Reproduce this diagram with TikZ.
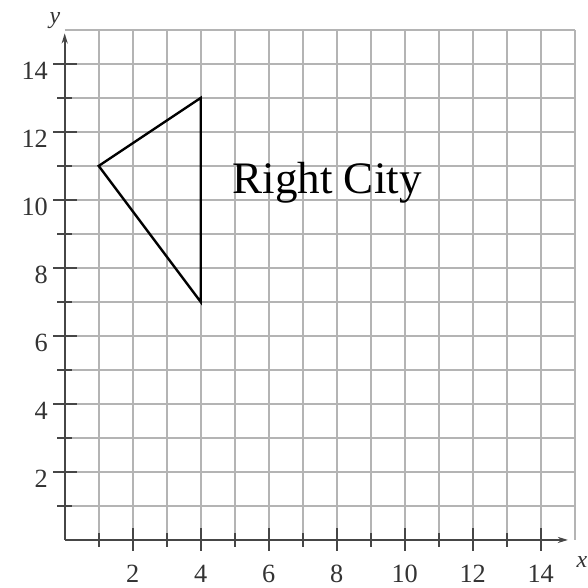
\documentclass[tikz,border=0pt]{standalone}
\usepackage{fontspec}
\setmainfont{Liberation Serif}
\usetikzlibrary{arrows.meta}
\definecolor{gridgray}{RGB}{180, 180, 180}
\definecolor{axisdark}{RGB}{70, 70, 70}
\tikzset{
    gridline/.style={draw=gridgray, line width=1.4pt},
    axisline/.style={draw=axisdark, line width=2pt, -{Stealth[length=3mm, width=1.8mm]}},
    tickmark/.style={draw=axisdark, line width=1.6pt},
    numlabel/.style={font=\fontsize{22}{24}\selectfont, inner sep=0pt, text=black!80},
    axislabel/.style={font=\fontsize{20}{22}\selectfont\itshape, inner sep=0pt, text=black!80},
    citylabel/.style={font=\fontsize{37.7}{40}\selectfont, inner sep=0pt},
    region/.style={draw=black, line width=2pt, line join=miter}
}
\begin{document}
\begin{tikzpicture}
    \useasboundingbox (-1.903,-1.41) rectangle (15.39,15.88);
    % grid
    \foreach \k in {1,...,15} {
        \draw[gridline] (\k,0) -- (\k,15);
        \draw[gridline] (0,\k) -- (15,\k);
    }
    % axes
    \draw[axisline] (0,0) -- (14.8,0);
    \draw[axisline] (0,0) -- (0,14.9);
    % ticks
    \foreach \k in {1,3,...,13} {
        \draw[tickmark] (\k,-0.2) -- (\k,0.2);
        \draw[tickmark] (-0.22,\k) -- (0.2,\k);
    }
    \foreach \k in {2,4,...,14} {
        \draw[tickmark] (\k,-0.32) -- (\k,0.35);
        \draw[tickmark] (-0.34,\k) -- (0.35,\k);
        \node[numlabel, anchor=base] (xl\k) at (\k,-1.24) {\k};
        \node[numlabel, anchor=base east] (yl\k) at (-0.49,\k-0.47) {\k};
    }
    \node[axislabel] (xname) at (15.21,-0.66) {x};
    \node[axislabel] (yname) at (-0.29,15.27) {y};
    % triangle
    \coordinate (west) at (1,11);
    \coordinate (north) at (4,13);
    \coordinate (south) at (4,7);
    \draw[region] (west) -- (north) -- (south) -- cycle;
    \node[citylabel, anchor=base west] (city) at (4.93,10.2) {Right City};
\end{tikzpicture}
\end{document}
